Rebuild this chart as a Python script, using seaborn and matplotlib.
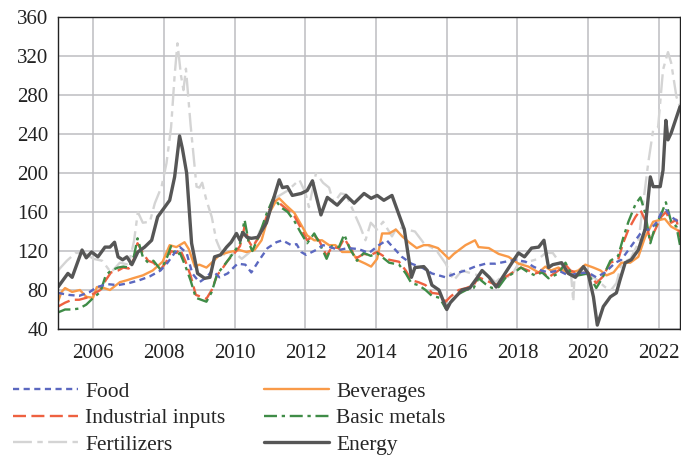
import pandas as pd
import matplotlib
matplotlib.use("Agg")
import matplotlib.pyplot as plt
import seaborn as sns

# decimal years / index values
food_x = [2005.0, 2005.3, 2005.6, 2005.9, 2006.1, 2006.4, 2006.7, 2007.0, 2007.3, 2007.6, 2007.9, 2008.1,
          2008.3, 2008.45, 2008.64, 2008.8, 2009.0, 2009.2, 2009.37, 2009.57, 2009.8, 2010.08, 2010.3,
          2010.47, 2010.7, 2010.93, 2011.18, 2011.35, 2011.6, 2011.75, 2011.88, 2012.02, 2012.3, 2012.5,
          2012.7, 2012.95, 2013.2, 2013.5, 2013.8, 2014.08, 2014.3, 2014.5, 2014.73, 2015.0, 2015.3,
          2015.58, 2015.97, 2016.25, 2016.53, 2016.8, 2017.1, 2017.38, 2017.66, 2017.95, 2018.23, 2018.45,
          2018.68, 2018.88, 2019.16, 2019.44, 2019.72, 2020.0, 2020.23, 2020.48, 2020.77, 2020.94, 2021.14,
          2021.34, 2021.48, 2021.61, 2021.76, 2021.93, 2022.07, 2022.2, 2022.35, 2022.6]
food_y = [77, 75, 74, 78, 83, 86, 85, 87, 90, 94, 100, 108,
          118, 124, 118, 97, 88, 93, 100, 93, 97, 107, 106,
          98, 111, 123, 129, 131, 126, 127, 119, 116, 121, 126,
          124, 121, 123, 122, 118, 126, 131, 123, 114, 107, 103,
          97, 93, 97, 100, 104, 107, 107, 109, 111, 109, 104,
          100, 98, 100, 95, 97, 98, 93, 98, 108, 111, 121,
          131, 138, 142, 142, 149, 159, 162, 155, 149]

bev_x = [2005.0, 2005.1, 2005.2, 2005.4, 2005.62, 2005.8, 2005.99, 2006.1, 2006.3, 2006.47, 2006.75, 2006.95,
         2007.12, 2007.4, 2007.68, 2007.96, 2008.16, 2008.35, 2008.58, 2008.7, 2008.87, 2009.0, 2009.2,
         2009.35, 2009.57, 2009.85, 2010.13, 2010.33, 2010.56, 2010.76, 2010.98, 2011.18, 2011.26, 2011.45,
         2011.69, 2011.91, 2012.05, 2012.25, 2012.47, 2012.67, 2012.85, 2013.04, 2013.32, 2013.46, 2013.7,
         2013.86, 2014.03, 2014.17, 2014.37, 2014.56, 2014.74, 2014.93, 2015.15, 2015.35, 2015.5, 2015.75,
         2016.06, 2016.2, 2016.53, 2016.8, 2016.9, 2017.19, 2017.47, 2017.75, 2018.03, 2018.31, 2018.6,
         2018.79, 2018.95, 2019.16, 2019.44, 2019.72, 2019.92, 2020.15, 2020.35, 2020.52, 2020.72, 2020.94,
         2021.19, 2021.42, 2021.61, 2021.84, 2022.04, 2022.17, 2022.35, 2022.6]
bev_y = [68, 78, 82, 78, 80, 73, 72, 83, 82, 80, 88, 90,
         92, 95, 100, 109, 126, 124, 129, 122, 104, 106, 103,
         108, 116, 119, 121, 119, 121, 131, 159, 172, 174, 167,
         159, 145, 136, 131, 131, 126, 126, 119, 119, 111, 107,
         104, 112, 138, 138, 142, 135, 129, 123, 126, 126, 123,
         112, 117, 126, 131, 124, 123, 117, 114, 107, 104, 98,
         104, 100, 103, 97, 100, 106, 103, 100, 95, 98, 108,
         108, 114, 134, 150, 152, 153, 145, 140]

ind_x = [2005.0, 2005.2, 2005.4, 2005.6, 2005.8, 2006.0, 2006.2, 2006.35, 2006.5, 2006.7, 2006.85, 2007.0,
         2007.15, 2007.25, 2007.4, 2007.55, 2007.7, 2007.9, 2008.05, 2008.2, 2008.35, 2008.45, 2008.6,
         2008.75, 2008.9, 2009.05, 2009.2, 2009.35, 2009.5, 2009.65, 2009.8, 2010.0, 2010.15, 2010.28,
         2010.4, 2010.5, 2010.7, 2010.9, 2011.1, 2011.3, 2011.5, 2011.7, 2011.85, 2012.05, 2012.25, 2012.4,
         2012.6, 2012.75, 2012.95, 2013.1, 2013.25, 2013.46, 2013.65, 2013.85, 2014.03, 2014.2, 2014.37,
         2014.65, 2014.84, 2015.0, 2015.2, 2015.4, 2015.58, 2015.8, 2015.97, 2016.1, 2016.34, 2016.55,
         2016.76, 2016.9, 2017.1, 2017.28, 2017.47, 2017.65, 2017.95, 2018.1, 2018.31, 2018.5, 2018.7,
         2018.88, 2019.16, 2019.36, 2019.5, 2019.72, 2020.0, 2020.23, 2020.4, 2020.63, 2020.85, 2020.99,
         2021.14, 2021.34, 2021.48, 2021.61, 2021.76, 2021.9, 2022.07, 2022.2, 2022.35, 2022.5, 2022.6]
ind_y = [63, 67, 70, 70, 72, 76, 80, 90, 98, 100, 103, 102,
         112, 128, 118, 110, 108, 101, 108, 120, 118, 122, 110,
         95, 75, 73, 71, 80, 95, 102, 110, 118, 125, 145,
         130, 124, 135, 155, 172, 168, 162, 155, 145, 131, 136, 130,
         115, 124, 123, 133, 124, 113, 117, 116, 119, 115, 111,
         109, 100, 90, 88, 85, 77, 76, 68, 73, 80, 82,
         85, 93, 90, 87, 85, 93, 100, 103, 100, 97, 99,
         93, 100, 106, 100, 97, 98, 87, 93, 108, 111, 128,
         142, 155, 162, 152, 131, 142, 155, 160, 149, 152, 134]

met_x = ind_x
met_y = [57, 60, 60, 61, 65, 72, 78, 95, 100, 103, 104, 103,
         115, 133, 114, 108, 110, 101, 110, 125, 115, 118, 105,
         90, 72, 70, 68, 78, 96, 103, 110, 120, 128, 152,
         128, 120, 137, 158, 175, 165, 160, 150, 140, 128, 138, 128,
         112, 125, 124, 137, 123, 110, 118, 115, 118, 113, 108,
         106, 97, 87, 85, 80, 74, 72, 61, 68, 76, 80,
         82, 92, 86, 82, 83, 92, 99, 103, 98, 95, 98,
         92, 97, 108, 98, 95, 97, 82, 92, 110, 115, 133,
         150, 168, 175, 160, 128, 145, 158, 170, 150, 145, 126]

fert_x = [2005.0, 2005.25, 2005.5, 2005.75, 2006.0, 2006.25, 2006.5, 2006.75, 2007.0, 2007.15, 2007.26, 2007.4,
          2007.6, 2007.74, 2007.93, 2008.07, 2008.2, 2008.3, 2008.38, 2008.48, 2008.55, 2008.62, 2008.75,
          2008.92, 2009.0, 2009.08, 2009.2, 2009.35, 2009.48, 2009.63, 2009.8, 2010.0, 2010.2, 2010.4,
          2010.55, 2010.7, 2010.9, 2011.18, 2011.5, 2011.83, 2012.0, 2012.1, 2012.3, 2012.5, 2012.67,
          2012.8, 2013.0, 2013.15, 2013.38, 2013.55, 2013.7, 2013.85, 2014.03, 2014.2, 2014.45, 2014.6,
          2014.87, 2015.1, 2015.35, 2015.7, 2015.97, 2016.2, 2016.43, 2016.7, 2016.9, 2017.1, 2017.38,
          2017.6, 2017.8, 2018.03, 2018.3, 2018.6, 2018.8, 2019.0, 2019.2, 2019.4, 2019.52, 2019.58,
          2019.62, 2019.8, 2020.0, 2020.2, 2020.48, 2020.65, 2020.8, 2020.95, 2021.2, 2021.42, 2021.5,
          2021.7, 2021.84, 2021.98, 2022.12, 2022.26, 2022.35, 2022.5, 2022.6]
fert_y = [100, 110, 118, 118, 112, 110, 98, 108, 106, 130, 160, 149,
          150, 169, 186, 210, 247, 300, 333, 300, 285, 307, 250,
          186, 185, 190, 172, 155, 131, 118, 114, 118, 112, 118,
          125, 140, 152, 175, 182, 193, 180, 165, 200, 190, 185,
          169, 179, 178, 159, 145, 131, 149, 142, 150, 135, 145,
          142, 140, 128, 121, 107, 90, 100, 97, 95, 97, 88,
          95, 93, 107, 109, 112, 118, 118, 108, 100, 95, 68,
          98, 100, 95, 92, 83, 80, 87, 108, 112, 128, 152,
          210, 244, 247, 306, 324, 313, 278, 268]

en_x = [2005.0, 2005.1, 2005.28, 2005.4, 2005.55, 2005.68, 2005.8, 2005.95, 2006.13, 2006.33, 2006.47, 2006.6,
        2006.7, 2006.83, 2006.95, 2007.09, 2007.26, 2007.45, 2007.65, 2007.82, 2007.96, 2008.16, 2008.3,
        2008.44, 2008.52, 2008.64, 2008.78, 2008.95, 2009.15, 2009.3, 2009.43, 2009.6, 2009.77, 2009.9,
        2010.05, 2010.15, 2010.23, 2010.35, 2010.47, 2010.65, 2010.9, 2011.06, 2011.26, 2011.35, 2011.49,
        2011.63, 2011.88, 2012.05, 2012.2, 2012.44, 2012.62, 2012.9, 2013.15, 2013.38, 2013.66, 2013.86,
        2014.03, 2014.22, 2014.45, 2014.6, 2014.8, 2014.93, 2015.0, 2015.1, 2015.35, 2015.45, 2015.58,
        2015.78, 2016.0, 2016.1, 2016.43, 2016.65, 2016.85, 2017.0, 2017.2, 2017.4, 2017.65, 2017.9,
        2018.03, 2018.2, 2018.4, 2018.6, 2018.75, 2018.88, 2019.0, 2019.25, 2019.44, 2019.64, 2019.87,
        2020.0, 2020.15, 2020.26, 2020.43, 2020.63, 2020.8, 2020.9, 2021.05, 2021.22, 2021.42, 2021.61,
        2021.76, 2021.84, 2022.04, 2022.12, 2022.2, 2022.26, 2022.35, 2022.6]
en_y = [83, 88, 97, 93, 108, 121, 113, 119, 114, 124, 124, 129,
        114, 111, 114, 106, 119, 124, 131, 155, 162, 172, 196,
        238, 225, 200, 128, 97, 92, 93, 114, 116, 124, 129,
        138, 131, 139, 134, 133, 134, 149, 169, 193, 185, 186,
        177, 179, 182, 192, 157, 175, 167, 177, 169, 179, 174,
        177, 172, 177, 162, 142, 111, 93, 103, 104, 100, 85,
        80, 60, 67, 80, 82, 92, 100, 93, 83, 97, 111,
        118, 114, 123, 124, 131, 103, 106, 108, 97, 93, 104,
        97, 73, 44, 63, 73, 77, 90, 108, 111, 121, 142,
        196, 186, 186, 203, 254, 234, 241, 268]

years = [2006, 2008, 2010, 2012, 2014, 2016, 2018, 2020, 2022]
yticks = [40, 80, 120, 160, 200, 240, 280, 320, 360]

sns.set_style("white")
plt.rcParams["font.family"] = ["Liberation Serif", "DejaVu Serif"]

fig = plt.figure(figsize=(6.81, 4.59), dpi=100)
ax = fig.add_axes([58 / 681, 1 - 329 / 459, 622 / 681, 312 / 459])

# name, x, y, colour, width, dash pattern
series = [
    ("Fertilizers", fert_x, fert_y, "#d4d4d4", 1.7, (0, (8, 2.3, 2.3, 2.3))),
    ("Beverages", bev_x, bev_y, "#f99a48", 1.7, "-"),
    ("Industrial inputs", ind_x, ind_y, "#ee6140", 1.7, (0, (5.5, 2.3))),
    ("Basic metals", met_x, met_y, "#3f8c47", 1.7, (0, (5.5, 2, 1.4, 2))),
    ("Food", food_x, food_y, "#5b68c0", 1.7, (0, (2.6, 1.9))),
    ("Energy", en_x, en_y, "#565656", 2.4, "-"),
]
handles = {}
for name, xs, ys, col, lw, ls in series:
    df = pd.DataFrame({"year": xs, "value": ys})
    sns.lineplot(data=df, x="year", y="value", ax=ax, color=col, lw=lw,
                 linestyle=ls, estimator=None, legend=False)
    handles[name] = ax.lines[-1]

ax.set_xlim(2005.0, 2022.6)
ax.set_ylim(40, 360)
ax.set_xticks(years)
ax.set_yticks(yticks)
ax.set_xlabel("")
ax.set_ylabel("")
ax.grid(True, color="#bdbdc1", lw=1.1)
ax.set_axisbelow(True)
for s in ax.spines.values():
    s.set_color("#222222")
    s.set_linewidth(1.0)
ax.tick_params(length=0, labelsize=15, colors="#222222")
ax.tick_params(axis="y", pad=7)
ax.tick_params(axis="x", pad=11)

order = ["Food", "Industrial inputs", "Fertilizers", "Beverages", "Basic metals", "Energy"]
fig.legend([handles[n] for n in order], order, ncol=2, loc="upper left",
           bbox_to_anchor=(-0.009, 0.211), frameon=False, fontsize=15.5,
           handlelength=3.0, handletextpad=0.35, columnspacing=1.8, labelspacing=0.3)

fig.savefig("out.png", dpi=100)
